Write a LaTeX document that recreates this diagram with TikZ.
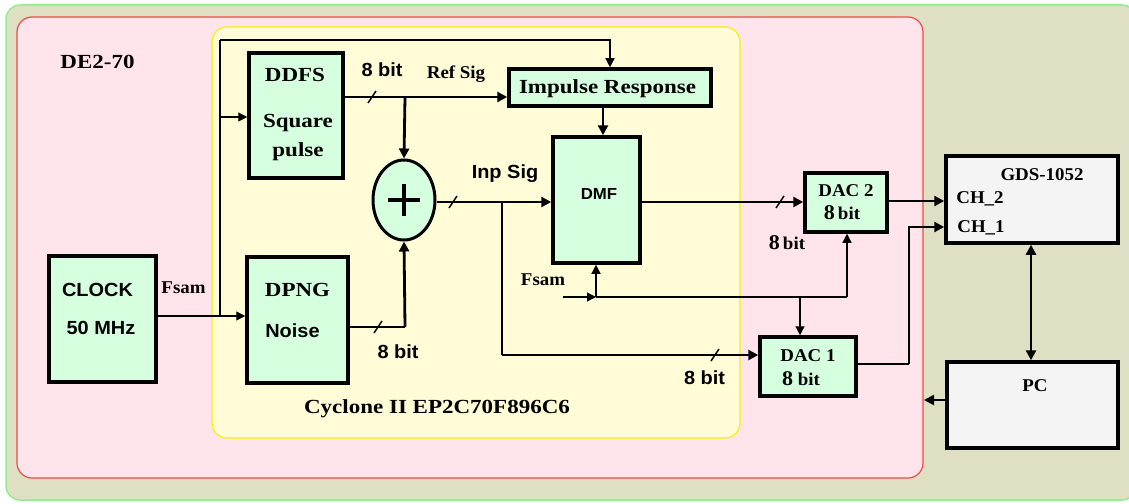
\documentclass[tikz,border=0pt]{standalone}
\usepackage{fontspec}
\setmainfont{Liberation Serif}
\newfontfamily\serA[FakeStretch=1.15]{Liberation Serif}
\newfontfamily\serB[FakeStretch=1.05]{Liberation Serif}
\newfontfamily\sanA[FakeStretch=1.05]{Liberation Sans}
\usetikzlibrary{arrows.meta,shapes.geometric}
\definecolor{tanbg}{RGB}{223,223,195}
\definecolor{tanbd}{RGB}{144,238,144}
\definecolor{pinkbg}{RGB}{255,228,236}
\definecolor{pinkbd}{RGB}{235,75,75}
\definecolor{yelbg}{RGB}{255,252,215}
\definecolor{yelbd}{RGB}{250,240,0}
\definecolor{boxbg}{RGB}{213,255,222}
\definecolor{greybg}{RGB}{244,244,244}
\newcommand{\bigeight}{{\fontsize{21}{22}\selectfont 8}}
\begin{document}
\begin{tikzpicture}[x=1pt,y=-1pt,
  blk/.style={draw=black,line width=3.5pt,fill=boxbg,inner sep=0pt},
  wblk/.style={draw=black,line width=3.5pt,fill=greybg,inner sep=0pt},
  bser/.style={font=\serA\bfseries\fontsize{20}{22}\selectfont,inner sep=0pt,text height=13pt,text depth=0pt},
  sser/.style={font=\serB\bfseries\fontsize{18}{20}\selectfont,inner sep=0pt,text height=12pt,text depth=0pt},
  sans/.style={font=\sanA\bfseries\fontsize{19}{21}\selectfont,inner sep=0pt,text height=13.5pt,text depth=0pt},
  thk/.style={line width=2.8pt,-{Triangle[length=10pt,width=10pt]}},
  thkl/.style={line width=2.8pt},
  med/.style={line width=2.2pt,-{Triangle[length=10pt,width=10pt]}},
  medl/.style={line width=2.2pt},
  thn/.style={line width=1.2pt,-{Triangle[length=9pt,width=9pt]}},
  thnl/.style={line width=1.2pt},
  tick/.style={line width=1.5pt}
]
\useasboundingbox (0,0) rectangle (1129,503);
% backgrounds
\draw[draw=tanbd,line width=1.5pt,fill=tanbg,rounded corners=14pt] (6,5) rectangle (1136,500);
\draw[draw=pinkbd,line width=1.2pt,fill=pinkbg,rounded corners=15pt] (17,17) rectangle (923,478);
\draw[draw=yelbd,line width=1.2pt,fill=yelbg,rounded corners=15pt] (212,27) rectangle (740,438);

% blocks
\node[blk,minimum width=94pt,minimum height=125pt] (ddfs) at (296,115.5) {};
\node[blk,minimum width=202pt,minimum height=37pt] (imp) at (610,87.5) {};
\node[blk,minimum width=87pt,minimum height=126pt] (dmf) at (596.5,200) {};
\node[blk,ellipse,minimum width=62pt,minimum height=80pt,line width=3pt] (sum) at (404,200) {};
\node[blk,minimum width=107pt,minimum height=126pt] (clk) at (102.5,319) {};
\node[blk,minimum width=101pt,minimum height=126pt] (dpng) at (297.5,320) {};
\node[blk,minimum width=82pt,minimum height=59pt] (dac2) at (846,202.5) {};
\node[blk,minimum width=96pt,minimum height=59pt] (dac1) at (808,366.5) {};
\node[wblk,minimum width=172pt,minimum height=87pt] (gds) at (1032,199.5) {};
\node[wblk,minimum width=171pt,minimum height=86pt] (pc) at (1032.5,405) {};

% plus sign
\draw[line width=4.8pt] (sum.center) +(-16,0) -- +(16,0);
\draw[line width=4.8pt] (sum.center) +(0,-16) -- +(0,16);

% texts
\node[bser] (t1) at (97.5,62) {DE2-70};
\node[bser] (t2) at (437,407) {Cyclone II EP2C70F896C6};
\node[bser] (t3) at (295,75) {DDFS};
\node[bser] (t4) at (298,121) {Square};
\node[bser] (t5) at (298,150) {pulse};
\node[bser] (t6) at (607.5,87) {Impulse Response};
\node[bser] (t7) at (297.5,290) {DPNG};
\node[sans] (t8) at (292.5,331) {Noise};
\node[sans] (t9) at (97.5,290) {CLOCK};
\node[sans] (t10) at (101,328) {50 MHz};
\node[sans,font=\sanA\bfseries\fontsize{16}{18}\selectfont,text height=11.5pt] (t11) at (599,194) {DMF};
\node[sans] (t12) at (382,70) {8 bit};
\node[sser] (t13) at (456,72) {Ref Sig};
\node[sans] (t14) at (505,172) {Inp Sig};
\node[sans] (t15) at (398,352) {8 bit};
\node[sans] (t16) at (704.5,378) {8 bit};
\node[sser] (t17) at (183.5,287) {Fsam};
\node[sser] (t18) at (543,279) {Fsam};
\node[sser] (t19) at (846,190) {DAC 2};
\node[sser] (t20) at (842,213) {\bigeight\,bit};
\node[sser] (t21) at (787,243) {\bigeight\,bit};
\node[sser] (t22) at (808,355) {DAC 1};
\node[sser] (t23) at (801,379) {\bigeight\ bit};
\node[sser] (t24) at (1042,174) {GDS-1052};
\node[sser] (t25) at (980,197) {CH\_2};
\node[sser] (t26) at (981,226) {CH\_1};
\node[sser] (t27) at (1035,385) {PC};

% junction coordinates
\coordinate (jc) at (220,316);
\coordinate (jt) at (220,40);
\coordinate (jd) at (220,117);
\coordinate (jr) at (405,97);
\coordinate (jn) at (405,327);
\coordinate (ji) at (502,202);
\coordinate (jb) at (502,355);
\coordinate (fs0) at (563,297);
\coordinate (fs1) at (596,297);
\coordinate (fs2) at (800,297);
\coordinate (fs3) at (847,297);
\coordinate (jo) at (909,364);
\coordinate (pcout) at (924,400);

% clock connections (thin)
\draw[thn] (clk.east|-jc) -- (dpng.west|-jc);
\draw[thnl] (jc) -- (jt);
\draw[thn] (jt) -- (610,40) -- (imp.north-|610,0);
\draw[thn] (jd) -- (ddfs.west|-jd);

% DDFS output
\draw[thk] (ddfs.east|-jr) -- (imp.west|-jr);
\draw[thk] (jr) -- (sum.north);
\draw[tick] (368,103) -- (376,91);

% DPNG output
\draw[thkl] (dpng.east|-jn) -- (jn);
\draw[thk] (jn) -- (sum.south);
\draw[tick] (374,333) -- (382,321);

% sum output
\draw[thk] (sum.east|-ji) -- (dmf.west|-ji);
\draw[tick] (449,208) -- (457,196);
\draw[thkl] (ji) -- (jb);
\draw[thk] (jb) -- (dac1.west|-jb);
\draw[tick] (711,361) -- (719,349);

% impulse to DMF
\draw[thk] (imp.south-|603,0) -- (dmf.north-|603,0);

% DMF to DAC2
\draw[thk] (dmf.east|-0,202) -- (dac2.west|-0,202);
\draw[tick] (776,208) -- (784,196);

% Fsam to DMF and DACs
\draw[thn] (fs0) -- (fs1);
\draw[thn] (fs1) -- (dmf.south-|fs1);
\draw[thnl] (fs1) -- (fs3);
\draw[thn] (fs3) -- (dac2.south-|fs3);
\draw[thn] (fs2) -- (dac1.north-|fs2);

% DAC outputs
\draw[med] (dac2.east|-0,201) -- (gds.west|-0,201);
\draw[medl] (dac1.east|-jo) -- (jo);
\draw[med] (jo) |- (gds.west|-0,227);

% GDS <-> PC
\draw[line width=2.8pt,{Triangle[length=10pt,width=10pt]}-{Triangle[length=10pt,width=10pt]}] (gds.south-|1031,0) -- (pc.north-|1031,0);

% PC out
\draw[thk] (pc.west|-pcout) -- (pcout);
\end{tikzpicture}
\end{document}
